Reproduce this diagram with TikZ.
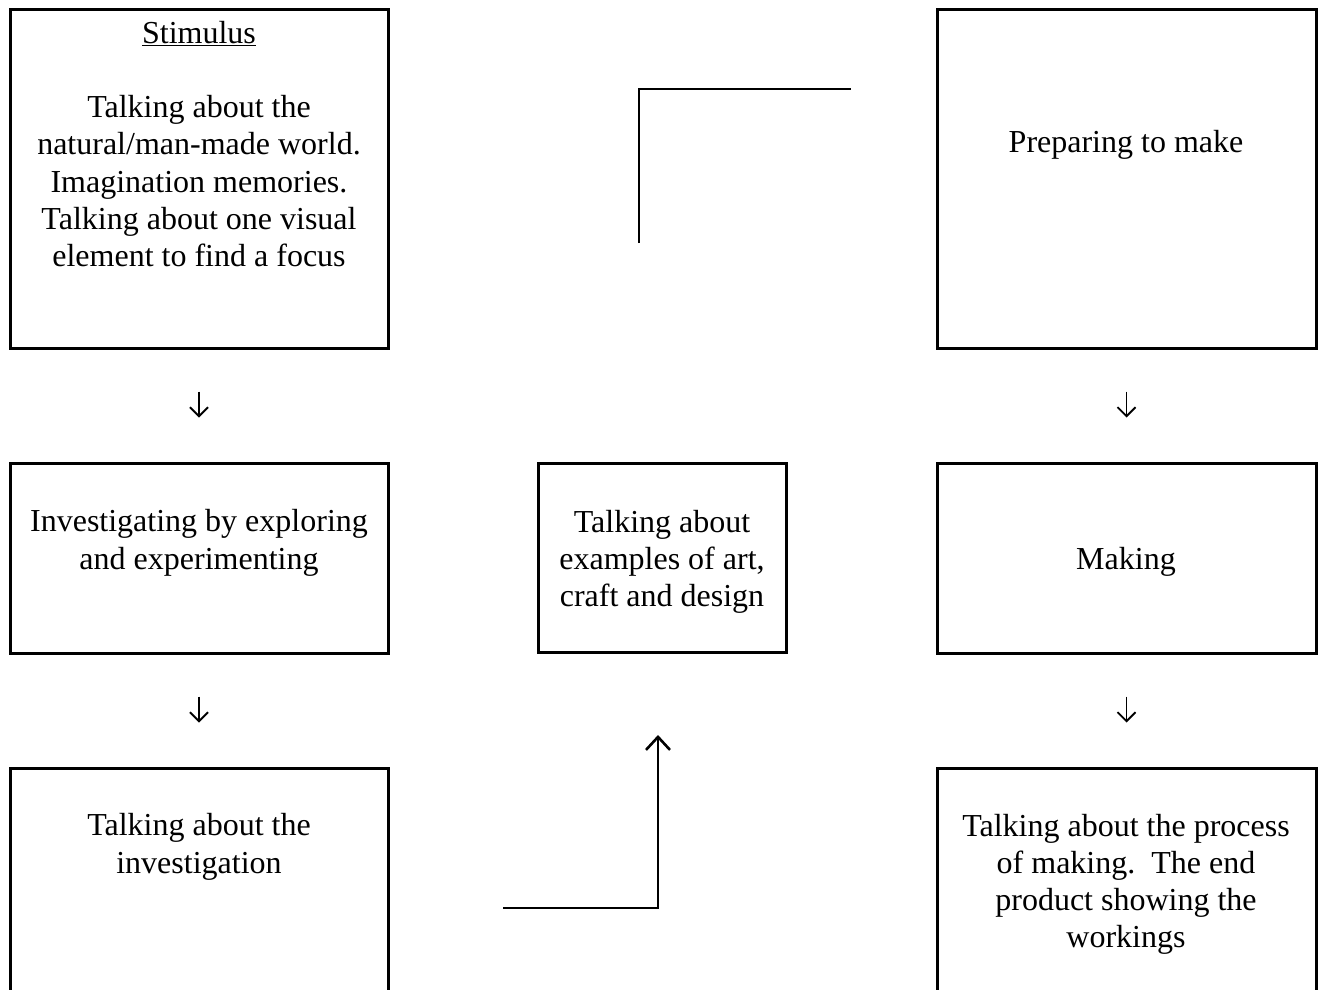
\documentclass[tikz,border=0pt]{standalone}
\usepackage{fontspec}
\setmainfont{Liberation Serif}
\usetikzlibrary{arrows.meta}
\begin{document}
\begin{tikzpicture}[x=1pt,y=-1pt,
  box/.style={draw, line width=3pt, rectangle, inner sep=0pt},
  txt/.style={anchor=base, align=center, inner sep=0pt, font=\fontsize{32}{37.3}\selectfont},
  dn/.style={line width=1.6pt, -{Straight Barb[length=9pt,width=18pt,line width=1.8pt]}},
  bracket/.style={line width=2pt},
  uparrow/.style={line width=2.2pt, -{Straight Barb[length=13pt,width=24pt,line width=2.6pt]}}]
\useasboundingbox (0,0) rectangle (1320,990);
\begin{scope}
\clip (0,0) rectangle (1320,990);
% boxes
\node[box, minimum width=378pt, minimum height=338pt] (stim) at (199,179) {};
\node[box, minimum width=379pt, minimum height=338pt] (prep) at (1126.5,179) {};
\node[box, minimum width=378pt, minimum height=190pt] (inv) at (199,558) {};
\node[box, minimum width=248pt, minimum height=189pt] (ex) at (662,558) {};
\node[box, minimum width=379pt, minimum height=190pt] (mak) at (1126.5,558) {};
\node[box, minimum width=378pt, minimum height=260pt] (tinv) at (199,898) {};
\node[box, minimum width=379pt, minimum height=260pt] (tproc) at (1126.5,898) {};
\end{scope}
% texts (anchor base = baseline of the last line)
\node[txt] (stimt) at (199,266.8) {\underline{Stimulus}\\[37.3pt]Talking about the\\natural/man-made world.\\Imagination memories.\\Talking about one visual\\element to find a focus};
\node[txt] (prept) at (1126,152) {Preparing to make};
\node[txt] (invt) at (199,569) {Investigating by exploring\\and experimenting};
\node[txt] (ext) at (662,606.6) {Talking about\\examples of art,\\craft and design};
\node[txt] (makt) at (1126,569) {Making};
\node[txt] (tinvt) at (199,873) {Talking about the\\investigation};
\node[txt] (tproct) at (1126,947.9) {Talking about the process\\of making.\ \ The end\\product showing the\\workings};
% down arrows
\draw[dn, shorten <=42pt, shorten >=44pt] (stim.south) -- (inv.north);
\draw[dn, shorten <=42pt, shorten >=44pt] (prep.south) -- (mak.north);
\draw[dn, shorten <=42pt, shorten >=44pt] (inv.south) -- (tinv.north);
\draw[dn, shorten <=42pt, shorten >=44pt] (mak.south) -- (tproc.north);
% brackets
\coordinate (ta) at (639,243);
\coordinate (tb) at (639,89);
\coordinate (tc) at (851,89);
\draw[bracket] (ta) -- (tb) -- (tc);
\coordinate (ba) at (503,908);
\coordinate (bb) at (658,908);
\coordinate (bc) at (658,735);
\draw[uparrow] (ba) -- (bb) -- (bc);
\end{tikzpicture}
\end{document}
